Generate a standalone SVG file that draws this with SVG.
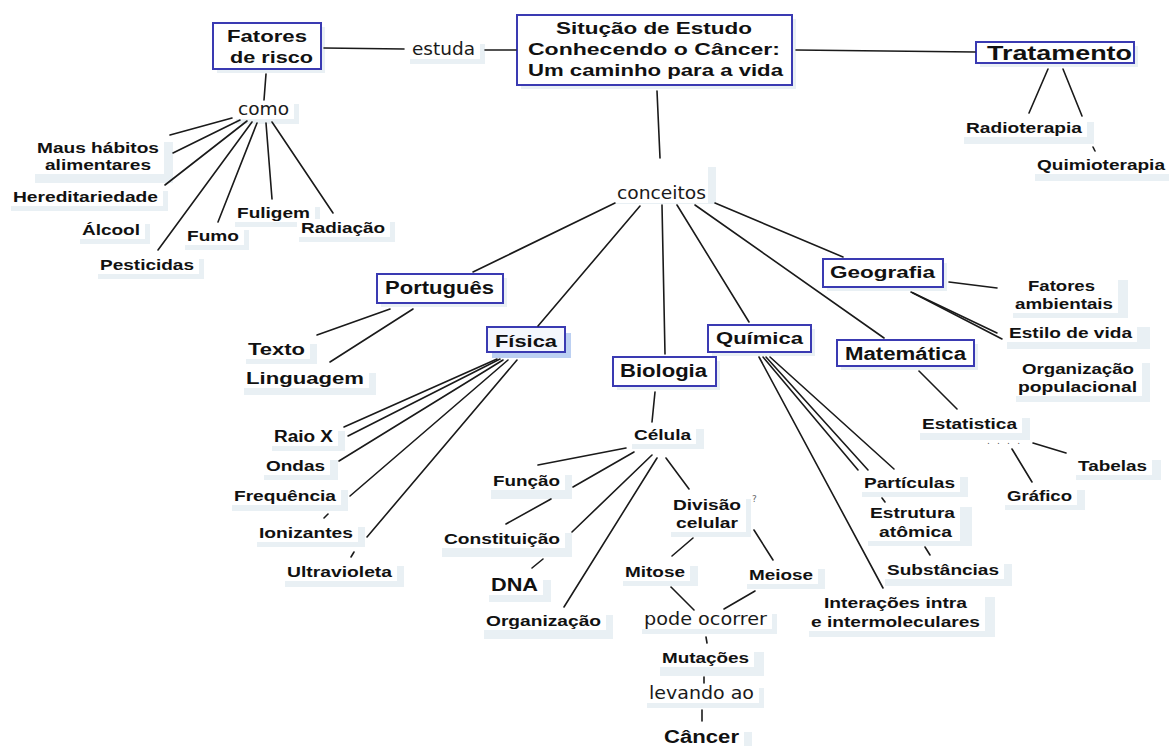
<svg xmlns="http://www.w3.org/2000/svg" width="1169" height="746" viewBox="0 0 1169 746">
<style>
.b{font-family:"Liberation Sans",Arial,sans-serif;font-weight:bold;font-size:15px;fill:#111}
.t{font-family:"Liberation Sans",Arial,sans-serif;font-weight:bold;font-size:17px;fill:#111}
.r{font-family:"DejaVu Sans",Verdana,sans-serif;font-size:18px;fill:#1a1a1a}
.box{fill:#fff;stroke:#3a3ab2;stroke-width:2}
.sh{fill:#e9f0f4}
.bg{fill:#fff}
.c line{stroke:#1a1a1a;stroke-width:1.6;stroke-linecap:round}
</style>
<rect width="1169" height="746" fill="#fff"/>

<!-- boxes -->
<g id="n-fatores">
<rect class="sh" x="217" y="27" width="108" height="46"/>
<rect class="box" x="213" y="23" width="108" height="46"/>
<text class="t" x="227" y="42" textLength="80" lengthAdjust="spacingAndGlyphs">Fatores</text>
<text class="t" x="230" y="63" textLength="83" lengthAdjust="spacingAndGlyphs">de risco</text>
</g>
<g id="n-main">
<rect class="sh" x="521" y="19" width="275" height="70"/>
<rect class="box" x="517" y="15" width="275" height="70"/>
<text class="t" x="556" y="34" textLength="196" lengthAdjust="spacingAndGlyphs">Situção de Estudo</text>
<text class="t" x="528" y="55" textLength="252" lengthAdjust="spacingAndGlyphs">Conhecendo o Câncer:</text>
<text class="t" x="528" y="76" textLength="255" lengthAdjust="spacingAndGlyphs">Um caminho para a vida</text>
</g>
<g id="n-tratamento">
<rect class="sh" x="980" y="46" width="158" height="21"/>
<rect class="box" x="976" y="42" width="158" height="21"/>
<text class="t" x="987" y="60" style="font-size:20px" textLength="145" lengthAdjust="spacingAndGlyphs">Tratamento</text>
</g>
<g id="n-portugues">
<rect class="sh" x="381" y="278" width="126" height="29"/>
<rect class="box" x="377" y="274" width="126" height="29"/>
<text class="t" x="385" y="294" style="font-size:18px" textLength="109" lengthAdjust="spacingAndGlyphs">Português</text>
</g>
<g id="n-fisica">
<rect x="492" y="333" width="79" height="25" fill="#bcd0f2"/>
<rect class="box" x="487" y="327" width="78" height="25" style="fill:#f4f7fd"/>
<text class="t" x="495" y="347" textLength="62" lengthAdjust="spacingAndGlyphs">Física</text>
</g>
<g id="n-biologia">
<rect class="sh" x="617" y="361" width="103" height="29"/>
<rect class="box" x="613" y="357" width="103" height="29"/>
<text class="t" x="620" y="377" style="font-size:18px" textLength="87" lengthAdjust="spacingAndGlyphs">Biologia</text>
</g>
<g id="n-quimica">
<rect class="sh" x="712" y="329" width="103" height="27"/>
<rect class="box" x="708" y="325" width="103" height="27"/>
<text class="t" x="716" y="344" textLength="87" lengthAdjust="spacingAndGlyphs">Química</text>
</g>
<g id="n-matematica">
<rect class="sh" x="841" y="344" width="137" height="26"/>
<rect class="box" x="837" y="340" width="137" height="26"/>
<text class="t" x="845" y="360" style="font-size:18px" textLength="121" lengthAdjust="spacingAndGlyphs">Matemática</text>
</g>
<g id="n-geografia">
<rect class="sh" x="827" y="263" width="120" height="28"/>
<rect class="box" x="823" y="259" width="120" height="28"/>
<text class="t" x="830" y="278" textLength="105" lengthAdjust="spacingAndGlyphs">Geografia</text>
</g>

<!-- plain linking words -->
<g id="n-estuda"><rect class="sh" x="410" y="44" width="75" height="20"/><rect class="bg" x="408" y="40" width="72" height="19"/>
<text class="r" x="412" y="55" textLength="63" lengthAdjust="spacingAndGlyphs">estuda</text></g>
<g id="n-como"><rect class="sh" x="236" y="104" width="63" height="20"/><rect class="bg" x="234" y="100" width="60" height="19"/>
<text class="r" x="238" y="115" textLength="51" lengthAdjust="spacingAndGlyphs">como</text></g>
<g id="n-conceitos"><rect class="sh" x="615" y="188" width="101" height="16"/><rect class="sh" x="708" y="167" width="8" height="37"/><rect class="bg" x="613" y="184" width="95" height="19"/>
<text class="r" x="617" y="199" textLength="89" lengthAdjust="spacingAndGlyphs">conceitos</text></g>
<g id="n-pode"><rect class="sh" x="642" y="614" width="135" height="20"/><rect class="bg" x="640" y="610" width="132" height="19"/>
<text class="r" x="644" y="625" textLength="123" lengthAdjust="spacingAndGlyphs">pode ocorrer</text></g>
<g id="n-levando"><rect class="sh" x="647" y="688" width="117" height="20"/><rect class="bg" x="645" y="684" width="114" height="19"/>
<text class="r" x="649" y="699" textLength="105" lengthAdjust="spacingAndGlyphs">levando ao</text></g>

<!-- labels -->
<g id="n-maus"><rect class="sh" x="35" y="142" width="138" height="41"/><rect class="bg" x="33" y="138" width="131" height="36"/>
<text class="b" x="37" y="153" textLength="122" lengthAdjust="spacingAndGlyphs">Maus hábitos</text>
<text class="b" x="45" y="170" textLength="106" lengthAdjust="spacingAndGlyphs">alimentares</text></g>
<g id="n-hered"><rect class="sh" x="11" y="191" width="157" height="20"/><rect class="bg" x="9" y="187" width="154" height="19"/>
<text class="b" x="13" y="202" textLength="145" lengthAdjust="spacingAndGlyphs">Hereditariedade</text></g>
<g id="n-alcool"><rect class="sh" x="80" y="224" width="70" height="20"/><rect class="bg" x="78" y="220" width="67" height="19"/>
<text class="b" x="82" y="235" textLength="58" lengthAdjust="spacingAndGlyphs">Álcool</text></g>
<g id="n-pesticidas"><rect class="sh" x="98" y="259" width="106" height="20"/><rect class="bg" x="96" y="255" width="103" height="19"/>
<text class="b" x="100" y="270" textLength="94" lengthAdjust="spacingAndGlyphs">Pesticidas</text></g>
<g id="n-fumo"><rect class="sh" x="185" y="230" width="64" height="20"/><rect class="bg" x="183" y="226" width="61" height="19"/>
<text class="b" x="187" y="241" textLength="52" lengthAdjust="spacingAndGlyphs">Fumo</text></g>
<g id="n-fuligem"><rect class="sh" x="235" y="207" width="85" height="20"/><rect class="bg" x="233" y="203" width="82" height="19"/>
<text class="b" x="237" y="218" textLength="73" lengthAdjust="spacingAndGlyphs">Fuligem</text></g>
<g id="n-radiacao"><rect class="sh" x="299" y="222" width="96" height="20"/><rect class="bg" x="297" y="219" width="93" height="18"/>
<text class="b" x="301" y="233" textLength="84" lengthAdjust="spacingAndGlyphs">Radiação</text></g>
<g id="n-radioterapia"><rect class="sh" x="964" y="122" width="130" height="22"/><rect class="bg" x="962" y="118" width="125" height="19"/>
<text class="b" x="966" y="133" textLength="116" lengthAdjust="spacingAndGlyphs">Radioterapia</text></g>
<g id="n-quimioterapia"><rect class="sh" x="1035" y="159" width="140" height="22"/><rect class="bg" x="1033" y="155" width="137" height="19"/>
<text class="b" x="1037" y="170" textLength="128" lengthAdjust="spacingAndGlyphs">Quimioterapia</text></g>
<g id="n-texto"><rect class="sh" x="246" y="344" width="71" height="20"/><rect class="bg" x="244" y="340" width="66" height="19"/>
<text class="b" x="248" y="355" style="font-size:17px" textLength="57" lengthAdjust="spacingAndGlyphs">Texto</text></g>
<g id="n-linguagem"><rect class="sh" x="244" y="373" width="132" height="22"/><rect class="bg" x="242" y="369" width="127" height="19"/>
<text class="b" x="246" y="384" style="font-size:17px" textLength="118" lengthAdjust="spacingAndGlyphs">Linguagem</text></g>
<g id="n-raiox"><rect class="sh" x="272" y="431" width="73" height="20"/><rect class="bg" x="270" y="427" width="68" height="19"/>
<text class="b" x="274" y="442" style="font-size:16px" textLength="59" lengthAdjust="spacingAndGlyphs">Raio X</text></g>
<g id="n-ondas"><rect class="sh" x="264" y="460" width="74" height="20"/><rect class="bg" x="262" y="456" width="68" height="19"/>
<text class="b" x="266" y="471" textLength="59" lengthAdjust="spacingAndGlyphs">Ondas</text></g>
<g id="n-frequencia"><rect class="sh" x="232" y="490" width="116" height="21"/><rect class="bg" x="230" y="486" width="111" height="19"/>
<text class="b" x="234" y="501" textLength="102" lengthAdjust="spacingAndGlyphs">Frequência</text></g>
<g id="n-ionizantes"><rect class="sh" x="257" y="527" width="108" height="20"/><rect class="bg" x="255" y="523" width="103" height="19"/>
<text class="b" x="259" y="538" textLength="94" lengthAdjust="spacingAndGlyphs">Ionizantes</text></g>
<g id="n-ultravioleta"><rect class="sh" x="285" y="566" width="119" height="21"/><rect class="bg" x="283" y="562" width="114" height="19"/>
<text class="b" x="287" y="577" textLength="105" lengthAdjust="spacingAndGlyphs">Ultravioleta</text></g>
<g id="n-celula"><rect class="sh" x="632" y="429" width="72" height="20"/><rect class="bg" x="630" y="425" width="66" height="19"/>
<text class="b" x="634" y="440" textLength="57" lengthAdjust="spacingAndGlyphs">Célula</text></g>
<g id="n-funcao"><rect class="sh" x="491" y="475" width="81" height="24"/><rect class="bg" x="489" y="471" width="76" height="19"/>
<text class="b" x="493" y="486" textLength="67" lengthAdjust="spacingAndGlyphs">Função</text></g>
<g id="n-constituicao"><rect class="sh" x="442" y="533" width="130" height="24"/><rect class="bg" x="440" y="529" width="125" height="19"/>
<text class="b" x="444" y="544" textLength="116" lengthAdjust="spacingAndGlyphs">Constituição</text></g>
<g id="n-dna"><rect class="sh" x="489" y="580" width="62" height="22"/><rect class="bg" x="487" y="576" width="56" height="19"/>
<text class="b" x="491" y="591" style="font-size:18px" textLength="47" lengthAdjust="spacingAndGlyphs">DNA</text></g>
<g id="n-organizacao"><rect class="sh" x="484" y="615" width="129" height="24"/><rect class="bg" x="482" y="611" width="124" height="19"/>
<text class="b" x="486" y="626" textLength="115" lengthAdjust="spacingAndGlyphs">Organização</text></g>
<g id="n-divisao"><rect class="sh" x="671" y="499" width="80" height="38"/><rect class="bg" x="669" y="495" width="77" height="37"/>
<text class="b" x="673" y="510" textLength="68" lengthAdjust="spacingAndGlyphs">Divisão</text>
<text class="b" x="676" y="528" textLength="62" lengthAdjust="spacingAndGlyphs">celular</text>
<text x="752" y="502" style="font-family:'DejaVu Sans',sans-serif;font-size:9px;fill:#666">?</text></g>
<g id="n-mitose"><rect class="sh" x="623" y="566" width="75" height="20"/><rect class="bg" x="621" y="562" width="69" height="19"/>
<text class="b" x="625" y="577" textLength="60" lengthAdjust="spacingAndGlyphs">Mitose</text></g>
<g id="n-meiose"><rect class="sh" x="747" y="569" width="78" height="20"/><rect class="bg" x="745" y="565" width="73" height="19"/>
<text class="b" x="749" y="580" textLength="64" lengthAdjust="spacingAndGlyphs">Meiose</text></g>
<g id="n-mutacoes"><rect class="sh" x="660" y="652" width="104" height="24"/><rect class="bg" x="658" y="648" width="96" height="19"/>
<text class="b" x="662" y="663" textLength="87" lengthAdjust="spacingAndGlyphs">Mutações</text></g>
<g id="n-cancer"><rect class="sh" x="662" y="732" width="90" height="20"/><rect class="bg" x="660" y="728" width="84" height="19"/>
<text class="b" x="664" y="743" style="font-size:18px" textLength="75" lengthAdjust="spacingAndGlyphs">Câncer</text></g>
<g id="n-particulas"><rect class="sh" x="862" y="477" width="106" height="20"/><rect class="bg" x="860" y="473" width="100" height="19"/>
<text class="b" x="864" y="488" textLength="91" lengthAdjust="spacingAndGlyphs">Partículas</text></g>
<g id="n-estrutura"><rect class="sh" x="868" y="507" width="104" height="39"/><rect class="bg" x="866" y="503" width="94" height="38"/>
<text class="b" x="870" y="518" textLength="85" lengthAdjust="spacingAndGlyphs">Estrutura</text>
<text class="b" x="879" y="537" textLength="73" lengthAdjust="spacingAndGlyphs">atômica</text></g>
<g id="n-substancias"><rect class="sh" x="885" y="564" width="127" height="22"/><rect class="bg" x="883" y="560" width="121" height="19"/>
<text class="b" x="887" y="575" textLength="112" lengthAdjust="spacingAndGlyphs">Substâncias</text></g>
<g id="n-interacoes"><rect class="sh" x="809" y="597" width="186" height="40"/><rect class="bg" x="807" y="593" width="178" height="38"/>
<text class="b" x="824" y="608" textLength="143" lengthAdjust="spacingAndGlyphs">Interações intra</text>
<text class="b" x="811" y="627" textLength="169" lengthAdjust="spacingAndGlyphs">e intermoleculares</text></g>
<g id="n-estatistica"><rect class="sh" x="920" y="418" width="110" height="22"/><rect class="bg" x="918" y="414" width="104" height="19"/>
<text class="b" x="922" y="429" textLength="95" lengthAdjust="spacingAndGlyphs">Estatistica</text>
<text x="987" y="444" style="font-family:'DejaVu Sans',sans-serif;font-size:9px;fill:#555" textLength="33" lengthAdjust="spacing">. . . .</text></g>
<g id="n-tabelas"><rect class="sh" x="1076" y="460" width="85" height="20"/><rect class="bg" x="1074" y="456" width="78" height="19"/>
<text class="b" x="1078" y="471" textLength="69" lengthAdjust="spacingAndGlyphs">Tabelas</text></g>
<g id="n-grafico"><rect class="sh" x="1005" y="490" width="80" height="20"/><rect class="bg" x="1003" y="486" width="74" height="19"/>
<text class="b" x="1007" y="501" textLength="65" lengthAdjust="spacingAndGlyphs">Gráfico</text></g>
<g id="n-fatamb"><rect class="sh" x="1013" y="280" width="115" height="38"/><rect class="bg" x="1011" y="276" width="107" height="37"/>
<text class="b" x="1028" y="291" textLength="67" lengthAdjust="spacingAndGlyphs">Fatores</text>
<text class="b" x="1015" y="309" textLength="98" lengthAdjust="spacingAndGlyphs">ambientais</text></g>
<g id="n-estilo"><rect class="sh" x="1007" y="327" width="143" height="22"/><rect class="bg" x="1005" y="323" width="132" height="19"/>
<text class="b" x="1009" y="338" textLength="123" lengthAdjust="spacingAndGlyphs">Estilo de vida</text></g>
<g id="n-orgpop"><rect class="sh" x="1016" y="363" width="134" height="39"/><rect class="bg" x="1014" y="359" width="128" height="37"/>
<text class="b" x="1022" y="374" textLength="112" lengthAdjust="spacingAndGlyphs">Organização</text>
<text class="b" x="1018" y="392" textLength="119" lengthAdjust="spacingAndGlyphs">populacional</text></g>

<!-- connectors -->
<g class="c" id="connectors">
<line x1="324" y1="48" x2="404" y2="49"/>
<line x1="485" y1="50" x2="516" y2="50"/>
<line x1="796" y1="50" x2="975" y2="52"/>
<line x1="266" y1="74" x2="264" y2="100"/>
<line x1="657" y1="91" x2="660" y2="158"/>
<line x1="232" y1="118" x2="170" y2="135"/>
<line x1="240" y1="120" x2="173" y2="153"/>
<line x1="247" y1="121" x2="165" y2="185"/>
<line x1="252" y1="122" x2="158" y2="250"/>
<line x1="257" y1="123" x2="218" y2="222"/>
<line x1="266" y1="123" x2="272" y2="199"/>
<line x1="272" y1="122" x2="333" y2="213"/>
<line x1="1048" y1="69" x2="1029" y2="113"/>
<line x1="1063" y1="69" x2="1082" y2="116"/>
<line x1="1093" y1="147" x2="1095" y2="151"/>
<line x1="615" y1="203" x2="473" y2="272"/>
<line x1="640" y1="206" x2="538" y2="326"/>
<line x1="662" y1="205" x2="665" y2="354"/>
<line x1="677" y1="205" x2="749" y2="322"/>
<line x1="695" y1="205" x2="884" y2="338"/>
<line x1="715" y1="203" x2="843" y2="257"/>
<line x1="390" y1="309" x2="317" y2="335"/>
<line x1="413" y1="309" x2="330" y2="362"/>
<line x1="497" y1="359" x2="344" y2="427"/>
<line x1="500" y1="359" x2="348" y2="436"/>
<line x1="503" y1="360" x2="339" y2="461"/>
<line x1="508" y1="360" x2="350" y2="496"/>
<line x1="328" y1="514" x2="324" y2="518"/>
<line x1="517" y1="360" x2="367" y2="537"/>
<line x1="354" y1="552" x2="351" y2="557"/>
<line x1="655" y1="392" x2="652" y2="422"/>
<line x1="626" y1="448" x2="538" y2="465"/>
<line x1="634" y1="452" x2="573" y2="487"/>
<line x1="551" y1="499" x2="506" y2="524"/>
<line x1="652" y1="455" x2="572" y2="532"/>
<line x1="543" y1="559" x2="532" y2="568"/>
<line x1="657" y1="458" x2="564" y2="607"/>
<line x1="666" y1="458" x2="689" y2="489"/>
<line x1="693" y1="538" x2="672" y2="556"/>
<line x1="754" y1="530" x2="773" y2="560"/>
<line x1="671" y1="587" x2="694" y2="610"/>
<line x1="755" y1="591" x2="724" y2="609"/>
<line x1="706" y1="637" x2="707" y2="643"/>
<line x1="704" y1="677" x2="704" y2="683"/>
<line x1="702" y1="710" x2="702" y2="721"/>
<line x1="759" y1="357" x2="883" y2="588"/>
<line x1="763" y1="357" x2="858" y2="470"/>
<line x1="882" y1="498" x2="885" y2="502"/>
<line x1="766" y1="357" x2="868" y2="470"/>
<line x1="770" y1="357" x2="894" y2="469"/>
<line x1="925" y1="547" x2="930" y2="555"/>
<line x1="919" y1="371" x2="957" y2="409"/>
<line x1="1033" y1="443" x2="1066" y2="453"/>
<line x1="1012" y1="449" x2="1032" y2="482"/>
<line x1="949" y1="282" x2="997" y2="288"/>
<line x1="911" y1="292" x2="997" y2="333"/>
<line x1="913" y1="293" x2="1002" y2="339"/>
</g>
</svg>
